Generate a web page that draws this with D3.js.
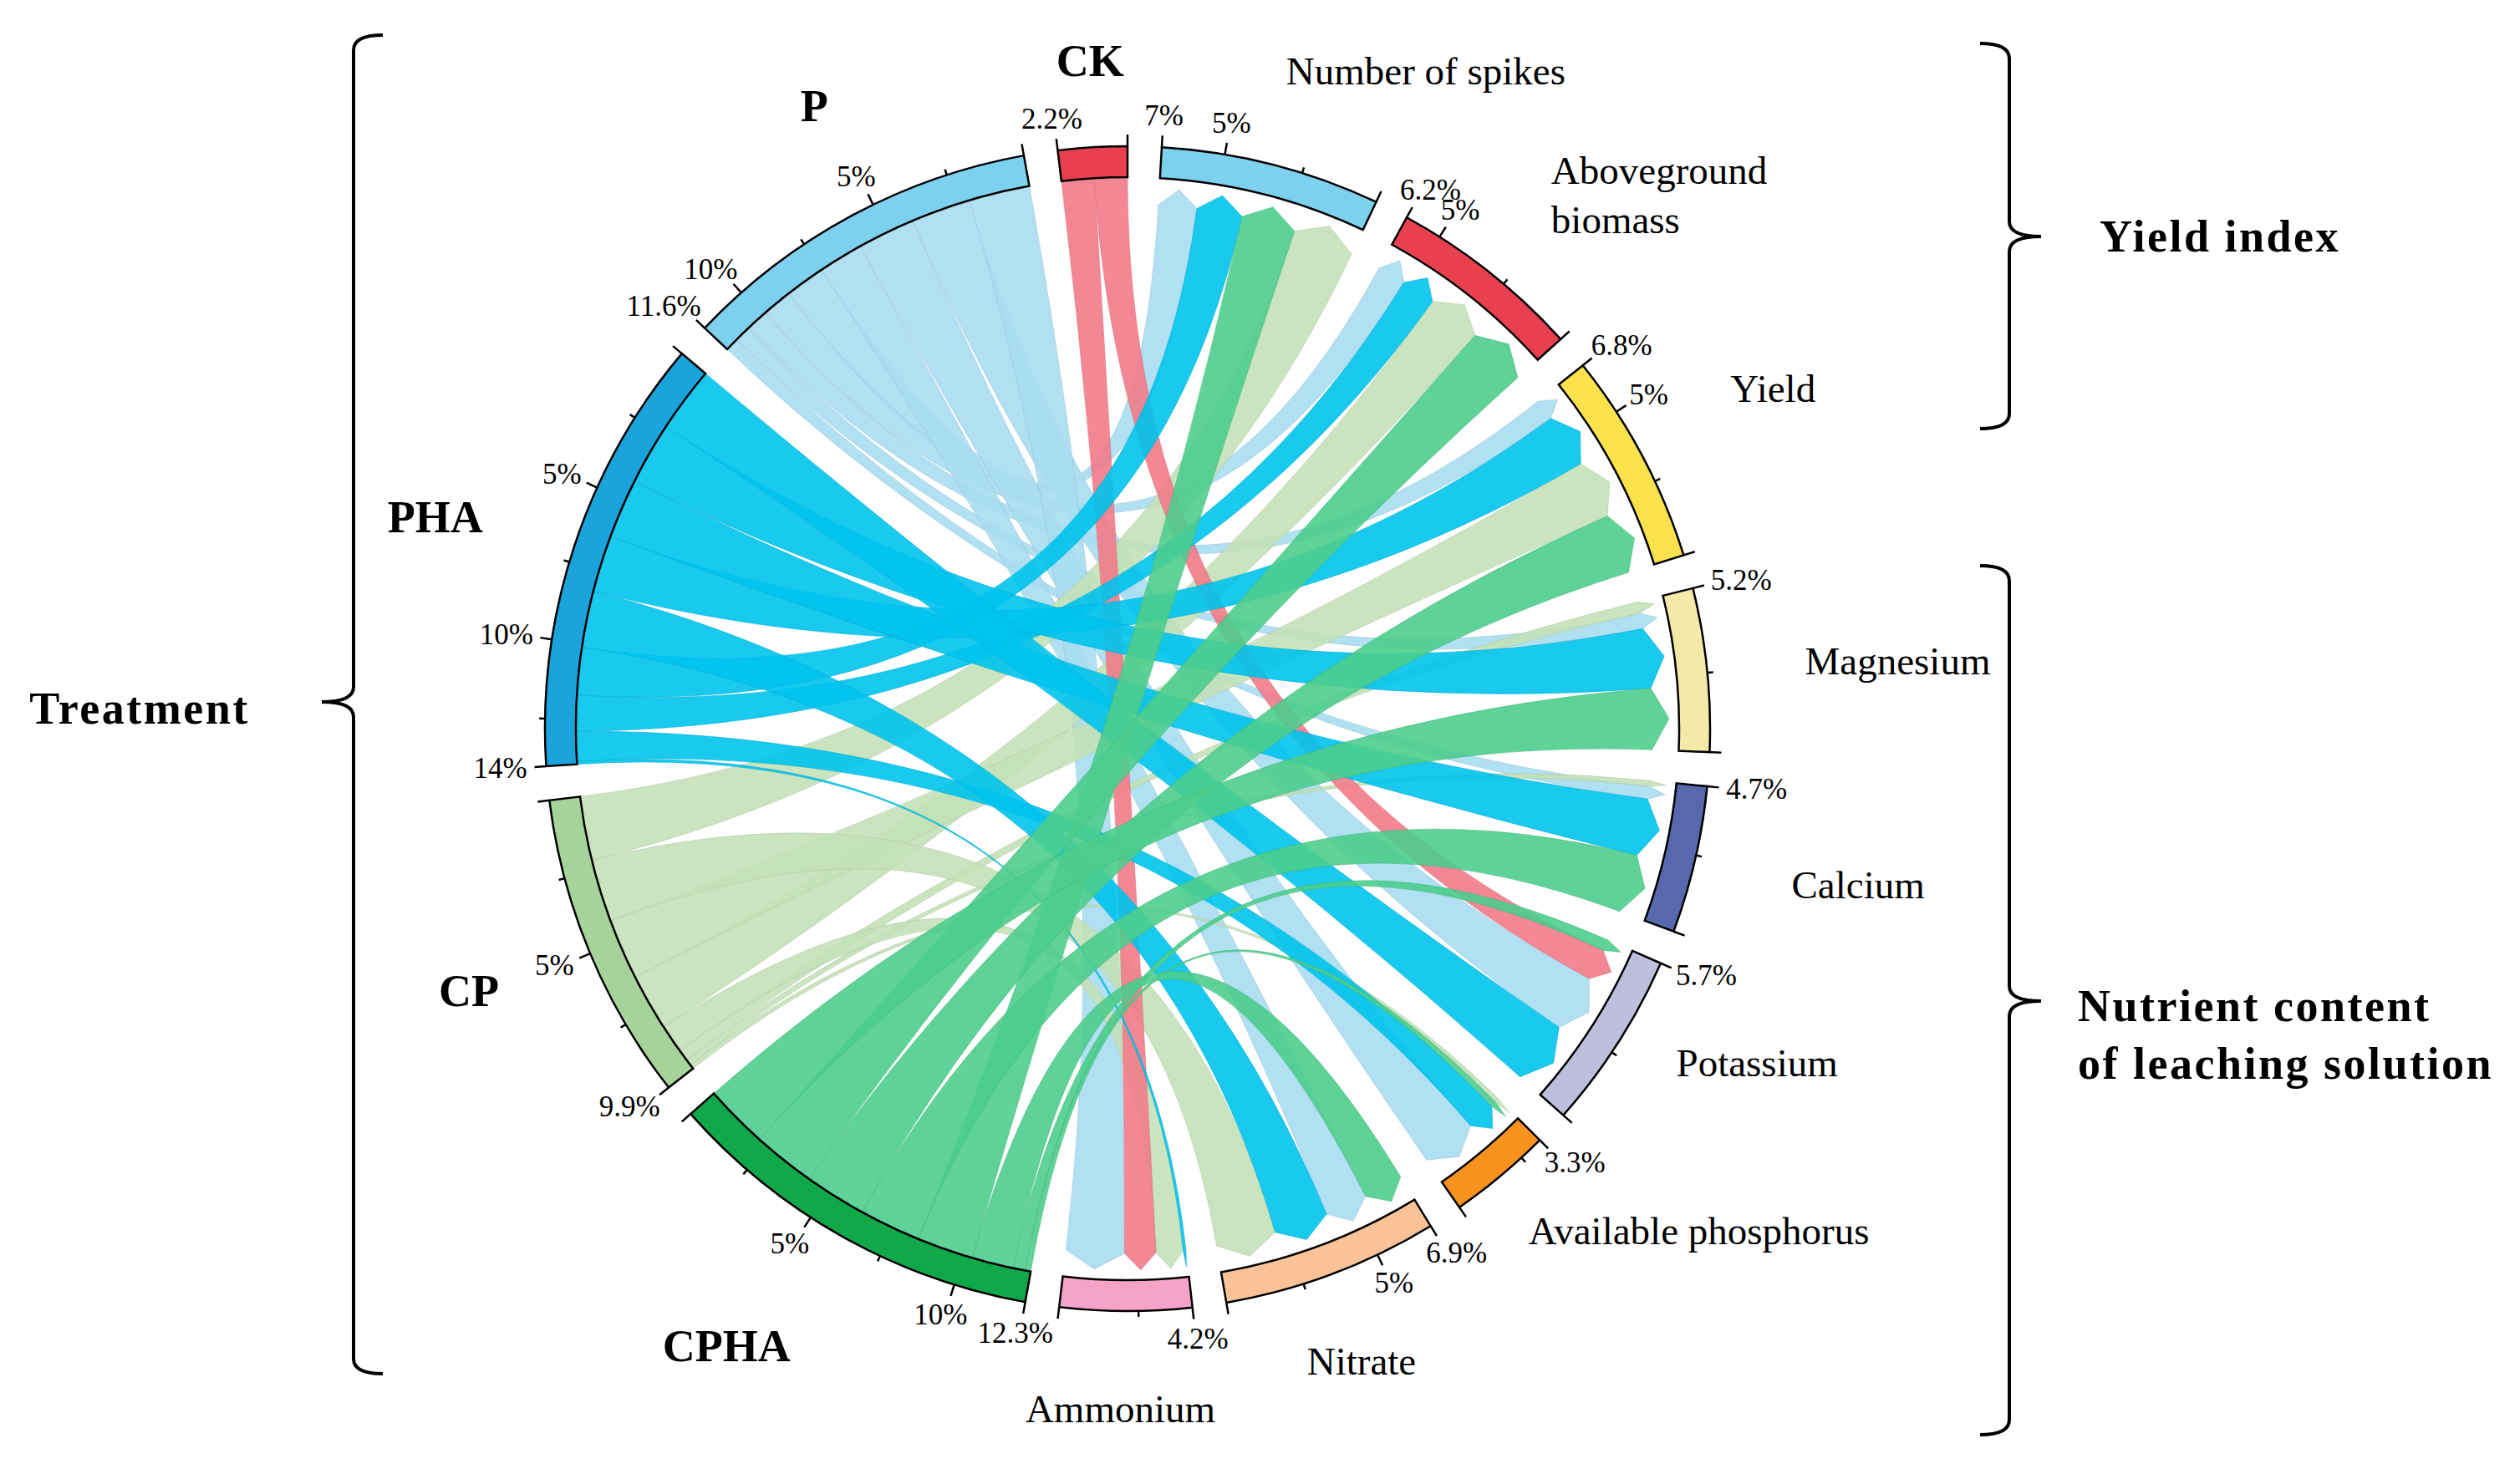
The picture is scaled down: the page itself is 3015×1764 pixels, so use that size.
<!DOCTYPE html>
<html><head><meta charset="utf-8">
<script src="https://cdn.jsdelivr.net/npm/d3@7"></script>
<style>body{margin:0;background:#fff}</style>
</head><body><svg id="chart" width="3015" height="1764"></svg>
<script>
// ---------------- DATA ----------------
const treatments = ["CK", "P", "PHA", "CP", "CPHA"];
const treatmentTotals = [2.2, 11.6, 14, 9.9, 12.3];
const indices = ["Number of spikes", "Aboveground biomass", "Yield", "Magnesium", "Calcium",
                 "Potassium", "Available phosphorus", "Nitrate", "Ammonium"];
const indexTotals = [7, 6.2, 6.8, 5.2, 4.7, 5.7, 3.3, 6.9, 4.2];
// link values (% of total), one array per treatment, in the order of `indices`
const linksCK   = [0,    0,   0,    0,    0,    1.1, 0,    0,   1.1];
const linksP    = [1.35, 1.0, 0.75, 0.55, 0.45, 2.0, 1.95, 1.5, 2.05];
const linksPHA  = [1.6,  1.2, 1.9,  2.1,  2.0,  2.2, 1.0,  1.9, 0.1];
const linksCP   = [2.15, 1.9, 2.05, 0.4,  0.2,  0,   0.15, 2.1, 0.95];
const linksCPHA = [1.9,  2.1, 2.1,  2.15, 2.05, 0.4, 0.2,  1.4, 0];
const tickStep = 2.5;
const groupTitles = ["Treatment", "Yield index", "Nutrient content", "of leaching solution"];

// ---------------- LAYOUT / STYLE ----------------
const W = 3015, H = 1764, cx = 1349, cy = 872;
const rOuter = 697, rInner = 660, rShoulder = 628, rTip = 648;
const gapDeg = 3.37;
const minEndGap = 0.75;   // ticks closer than this to a sector's end value are not drawn
const serif = "'Liberation Serif','Times New Roman',serif";
const arcColor = {
  "CK": "#E8404F", "P": "#7DD0EE", "PHA": "#1BA3DC", "CP": "#A5D39A", "CPHA": "#11A84A",
  "Number of spikes": "#7DD0EE", "Aboveground biomass": "#E8404F", "Yield": "#FBE14B",
  "Magnesium": "#F5E9A8", "Calcium": "#5868AE", "Potassium": "#BEBFDD",
  "Available phosphorus": "#F7931E", "Nitrate": "#F9C397", "Ammonium": "#F5A3C7"
};
const chordColor = {"CK": "#F27B88", "P": "#A8DDF1", "PHA": "#00C3EC", "CP": "#C3E1B8", "CPHA": "#4CCD8C"};
const drawOrder = ["P", "CP", "CK", "PHA", "CPHA"];
const labelLayout = {
  "CK": [-3.2, 800], "P": [333.3, 834], "PHA": [287, 866], "CP": [248.3, 848], "CPHA": [213, 881],
  "Number of spikes": [24.4, 864], "Aboveground biomass": [38.4, 816, "start"], "Yield": [62.2, 873],
  "Magnesium": [85, 925], "Calcium": [102.1, 894], "Potassium": [118, 853],
  "Available phosphorus": [131.3, 910], "Nitrate": [159.7, 807], "Ammonium": [180.6, 814]
};

const svg = d3.select("#chart");
svg.append("rect").attr("width", W).attr("height", H).attr("fill", "#fff");
const g = svg.append("g").attr("transform", `translate(${cx},${cy})`);

const rad = d => d * Math.PI / 180;
const pt = (aDeg, r) => [r * Math.sin(rad(aDeg)), -r * Math.cos(rad(aDeg))];

// sectors, clockwise from 12 o'clock
const sectors = [];
indices.forEach((n, i) => sectors.push({name: n, total: indexTotals[i], kind: "index", links: []}));
["CPHA", "CP", "PHA", "P", "CK"].forEach(n => {
  const i = treatments.indexOf(n);
  sectors.push({name: n, total: treatmentTotals[i], kind: "treat", links: []});
});
const grand = d3.sum(sectors, d => d.total);
const deg = d3.scaleLinear().domain([0, grand]).range([0, 360 - sectors.length * gapDeg]);
let acc = gapDeg;
sectors.forEach(s => { s.start = acc; s.end = acc + deg(s.total); acc = s.end + gapDeg; });
const byName = {};
sectors.forEach(s => byName[s.name] = s);

// links
const matrix = {"CK": linksCK, "P": linksP, "PHA": linksPHA, "CP": linksCP, "CPHA": linksCPHA};
const links = [];
treatments.forEach(t => matrix[t].forEach((v, j) => {
  if (v > 0) links.push({src: t, tgt: indices[j], v, j});
}));
links.forEach(l => { byName[l.src].links.push(l); byName[l.tgt].links.push(l); });
// place links in each sector: largest next to the 0 end (clockwise-last end)
sectors.forEach(s => {
  const sorted = s.links.slice().sort((a, b) => b.v - a.v);
  let c = 0;
  sorted.forEach(l => {
    const a1 = s.end - deg(c), a0 = s.end - deg(c + l.v);
    c += l.v;
    if (s.kind === "treat") { l.s0 = a0; l.s1 = a1; } else { l.t0 = a0; l.t1 = a1; }
  });
});

function ribbon(l) {
  const p = d3.path();
  const [x0, y0] = pt(l.s0, rInner);
  p.moveTo(x0, y0);
  p.arc(0, 0, rInner, rad(l.s0 - 90), rad(l.s1 - 90), false);
  const a = pt(l.t0, rShoulder), tip = pt((l.t0 + l.t1) / 2, rTip), b = pt(l.t1, rShoulder);
  p.quadraticCurveTo(0, 0, a[0], a[1]);
  p.lineTo(tip[0], tip[1]);
  p.lineTo(b[0], b[1]);
  p.quadraticCurveTo(0, 0, x0, y0);
  p.closePath();
  return p.toString();
}

const linkG = g.append("g");
drawOrder.forEach(t => {
  linkG.selectAll(null).data(links.filter(l => l.src === t)).join("path")
    .attr("d", ribbon)
    .attr("fill", chordColor[t]).attr("fill-opacity", 0.9)
    .attr("stroke", d3.color(chordColor[t]).darker(0.4)).attr("stroke-width", 1).attr("stroke-opacity", 0.5);
});

// sector arcs
const arc = d3.arc().innerRadius(rInner).outerRadius(rOuter);
g.append("g").selectAll("path").data(sectors).join("path")
  .attr("d", s => arc({startAngle: rad(s.start), endAngle: rad(s.end)}))
  .attr("fill", s => arcColor[s.name]).attr("stroke", "#000").attr("stroke-width", 2.5);

// ticks
const tickG = g.append("g");
sectors.forEach(s => {
  const ticks = [];
  for (let t = 0; t <= s.total - minEndGap; t += tickStep)
    ticks.push({v: t, label: (t > 0 && t % 5 === 0) ? t + "%" : null, len: (t % 5 === 0) ? 14 : 7});
  ticks.push({v: s.total, label: (Math.round(s.total * 10) / 10) + "%", len: 14});
  ticks.forEach(tk => {
    const a = s.end - deg(tk.v);
    const p0 = pt(a, rOuter), p1 = pt(a, rOuter + tk.len);
    tickG.append("line").attr("x1", p0[0]).attr("y1", p0[1]).attr("x2", p1[0]).attr("y2", p1[1])
      .attr("stroke", "#000").attr("stroke-width", 2.5);
    if (tk.label) {
      const txt = tickG.append("text").text(tk.label)
        .attr("font-family", serif).attr("font-size", 35).attr("fill", "#000")
        .attr("text-anchor", "middle").attr("dominant-baseline", "central");
      const bb = txt.node().getBBox();
      const w = bb.width, h = bb.height * 0.75, pad = 9;
      const sn = Math.sin(rad(a)), cs = Math.cos(rad(a));
      txt.attr("x", p1[0] + sn * (pad + w / 2)).attr("y", p1[1] - cs * (pad + h / 2));
    }
  });
});

// sector labels
sectors.forEach(s => {
  const [ang, r, anchor] = labelLayout[s.name];
  const [x, y] = pt(ang, r);
  const t = g.append("text").attr("font-family", serif).attr("fill", "#000")
    .attr("text-anchor", anchor || "middle").attr("dominant-baseline", "central");
  if (s.kind === "treat") t.attr("font-size", 54).attr("font-weight", "bold");
  else t.attr("font-size", 47);
  if (s.name === "Aboveground biomass") {
    t.append("tspan").attr("x", x).attr("y", y - 29).text("Aboveground");
    t.append("tspan").attr("x", x).attr("y", y + 30).text("biomass");
  } else {
    t.attr("x", x).attr("y", y).text(s.name);
  }
});

// brackets
function brace(x, y0, y1, ym, dir, hook, tipLen) {
  const c = 18;
  const hx = x + dir * hook, tx = x - dir * tipLen;
  return `M${hx},${y0} Q${x},${y0} ${x},${y0 + c} L${x},${ym - c} Q${x},${ym} ${tx},${ym} ` +
         `Q${x},${ym} ${x},${ym + c} L${x},${y1 - c} Q${x},${y1} ${hx},${y1}`;
}
const br = svg.append("g").attr("fill", "none").attr("stroke", "#000").attr("stroke-width", 4);
br.append("path").attr("d", brace(423, 42, 1644, 840, 1, 35, 38));
br.append("path").attr("d", brace(2404, 52, 513, 283, -1, 35, 38));
br.append("path").attr("d", brace(2404, 677, 1717, 1198, -1, 35, 38));

const title = (txt, x, y, anchor) => svg.append("text").text(txt).attr("x", x).attr("y", y)
  .attr("font-family", serif).attr("font-weight", "bold").attr("font-size", 54)
  .attr("letter-spacing", 2.5).attr("text-anchor", anchor).attr("dominant-baseline", "central");
title(groupTitles[0], 167, 848, "middle");
title(groupTitles[1], 2656, 283, "middle");
title(groupTitles[2], 2486, 1204, "start");
title(groupTitles[3], 2486, 1273, "start");
</script></body></html>
